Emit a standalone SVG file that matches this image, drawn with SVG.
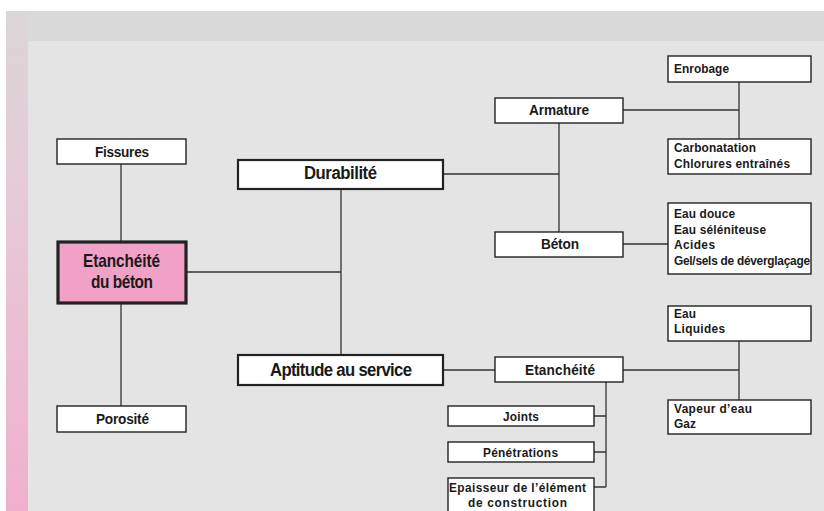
<svg xmlns="http://www.w3.org/2000/svg" width="824" height="511" viewBox="0 0 824 511">
<defs>
<linearGradient id="strip" x1="0" y1="0" x2="0" y2="1">
<stop offset="0" stop-color="#dbd6d8"/>
<stop offset="0.35" stop-color="#e6cbd7"/>
<stop offset="1" stop-color="#efb0cd"/>
</linearGradient>
<style>
.bx{fill:#fff;stroke:#222;stroke-width:1.4}
.bx2{fill:#fff;stroke:#222;stroke-width:2.2}
.main{fill:#f1a1c6;stroke:#222;stroke-width:3.2}
text{font-family:"Liberation Sans",Arial,sans-serif;font-weight:bold;fill:#1a1a1a}
.t14{font-size:15.5px}
.t16{font-size:17.5px}
.t17{font-size:19px}
.t12{font-size:13.5px}
.ln{stroke:#333;stroke-width:1.3;fill:none}
</style>
</defs>
<rect x="0" y="0" width="824" height="511" fill="#ffffff"/>
<rect x="6" y="11" width="818" height="500" fill="#d9d9d9"/>
<rect x="6" y="11" width="22" height="500" fill="url(#strip)"/>
<rect x="28" y="41" width="796" height="470" fill="#e4e4e4"/>

<g id="connectors">
<path class="ln" d="M121,164 V242 M121,303 V406"/>
<path class="ln" d="M186,272 H341 M341,190 V355"/>
<path class="ln" d="M443,174 H559 M559,123 V232"/>
<path class="ln" d="M623,110 H739 M739,82 V139"/>
<path class="ln" d="M623,244 H668"/>
<path class="ln" d="M443,370 H495 M623,370 H739 M739,341 V400"/>
<path class="ln" d="M606,382 V487 M594,416 H606 M594,452 H606 M594,487 H606"/>
</g>

<g id="n-fissures"><rect class="bx" x="57" y="139" width="129" height="25"/><text class="t14" transform="scale(0.88,1)" x="107.95" y="157" textLength="61.36" lengthAdjust="spacing">Fissures</text></g>
<g id="n-etancheite-beton"><rect class="main" x="58" y="242" width="128" height="61"/><text class="t16" transform="scale(0.88,1)" x="94.32" y="267" textLength="87.5" lengthAdjust="spacing">Etanchéité</text><text class="t16" transform="scale(0.88,1)" x="103.41" y="288" textLength="70.45" lengthAdjust="spacing">du béton</text></g>
<g id="n-porosite"><rect class="bx" x="57" y="406" width="129" height="26"/><text class="t14" transform="scale(0.88,1)" x="109.09" y="424" textLength="60.23" lengthAdjust="spacing">Porosité</text></g>
<g id="n-durabilite"><rect class="bx2" x="238" y="160" width="205" height="29"/><text class="t17" transform="scale(0.88,1)" x="345.45" y="179.5" textLength="82.95" lengthAdjust="spacing">Durabilité</text></g>
<g id="n-aptitude"><rect class="bx2" x="238" y="355" width="205" height="30"/><text class="t17" transform="scale(0.88,1)" x="306.82" y="376.5" textLength="161.36" lengthAdjust="spacing">Aptitude au service</text></g>
<g id="n-armature"><rect class="bx" x="495" y="98" width="128" height="25"/><text class="t14" transform="scale(0.88,1)" x="601.14" y="115.5" textLength="68.18" lengthAdjust="spacing">Armature</text></g>
<g id="n-beton"><rect class="bx" x="495" y="232" width="128" height="25"/><text class="t14" transform="scale(0.88,1)" x="614.77" y="249.5" textLength="43.18" lengthAdjust="spacing">Béton</text></g>
<g id="n-enrobage"><rect class="bx" x="668" y="56" width="143" height="26"/><text class="t12" transform="scale(0.88,1)" x="765.91" y="73" textLength="62.5" lengthAdjust="spacing">Enrobage</text></g>
<g id="n-carbonatation"><rect class="bx" x="668" y="139" width="143" height="35"/><text class="t12" transform="scale(0.88,1)" x="765.91" y="152.5" textLength="93.18" lengthAdjust="spacing">Carbonatation</text><text class="t12" transform="scale(0.88,1)" x="765.91" y="168.5" textLength="131.82" lengthAdjust="spacing">Chlorures entraînés</text></g>
<g id="n-eau-douce"><rect class="bx" x="668" y="203" width="143" height="71"/><text class="t12" transform="scale(0.88,1)" x="765.91" y="218.5" textLength="69.32" lengthAdjust="spacing">Eau douce</text><text class="t12" transform="scale(0.88,1)" x="765.91" y="234" textLength="104.55" lengthAdjust="spacing">Eau séléniteuse</text><text class="t12" transform="scale(0.88,1)" x="765.91" y="249.5" textLength="46.59" lengthAdjust="spacing">Acides</text><text class="t12" transform="scale(0.88,1)" x="765.91" y="265" textLength="154.55" lengthAdjust="spacing">Gel/sels de déverglaçage</text></g>
<g id="n-eau-liquides"><rect class="bx" x="668" y="306" width="143" height="35"/><text class="t12" transform="scale(0.88,1)" x="765.91" y="318.5" textLength="25" lengthAdjust="spacing">Eau</text><text class="t12" transform="scale(0.88,1)" x="765.91" y="333.5" textLength="57.95" lengthAdjust="spacing">Liquides</text></g>
<g id="n-etancheite"><rect class="bx" x="495" y="357" width="128" height="25"/><text class="t14" transform="scale(0.88,1)" x="596.59" y="375" textLength="79.55" lengthAdjust="spacing">Etanchéité</text></g>
<g id="n-vapeur"><rect class="bx" x="668" y="400" width="143" height="34"/><text class="t12" transform="scale(0.88,1)" x="765.91" y="413" textLength="88.64" lengthAdjust="spacing">Vapeur d’eau</text><text class="t12" transform="scale(0.88,1)" x="765.91" y="428" textLength="25" lengthAdjust="spacing">Gaz</text></g>
<g id="n-joints"><rect class="bx" x="448" y="406" width="146" height="20"/><text class="t12" transform="scale(0.88,1)" x="571.59" y="421" textLength="40.91" lengthAdjust="spacing">Joints</text></g>
<g id="n-penetrations"><rect class="bx" x="448" y="442" width="146" height="20"/><text class="t12" transform="scale(0.88,1)" x="548.86" y="457" textLength="85.23" lengthAdjust="spacing">Pénétrations</text></g>
<g id="n-epaisseur"><rect class="bx" x="448" y="478" width="146" height="40"/><text class="t12" transform="scale(0.88,1)" x="510.23" y="492" textLength="155.68" lengthAdjust="spacing">Epaisseur de l’élément</text><text class="t12" transform="scale(0.88,1)" x="531.82" y="507" textLength="112.5" lengthAdjust="spacing">de construction</text></g>
</svg>
